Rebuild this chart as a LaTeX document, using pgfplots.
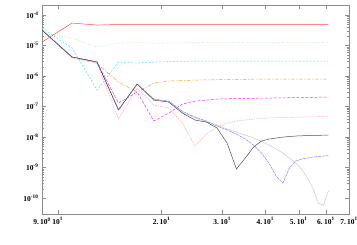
\documentclass[border=0pt]{standalone}
\usepackage{fontspec}
\setmainfont{Liberation Serif}
\usepackage{pgfplots}
\pgfplotsset{compat=1.18}
\definecolor{cred}{RGB}{255,70,70}
\definecolor{cgreen}{RGB}{120,225,120}
\definecolor{ccyan}{RGB}{70,230,230}
\definecolor{corange}{RGB}{230,170,60}
\definecolor{cmag}{RGB}{240,50,240}
\definecolor{cpink}{RGB}{255,170,170}
\definecolor{cblack}{RGB}{80,80,80}
\definecolor{cblue}{RGB}{130,130,255}
\definecolor{cgray}{RGB}{200,200,200}
\begin{document}
\begin{tikzpicture}
\useasboundingbox (-42pt,-31pt) rectangle (315pt,214pt);
\begin{axis}[
  xmode=log, ymode=log,
  scale only axis, width=307pt, height=209pt,
  xmin=9, xmax=70, ymin=3.0e-11, ymax=2.14e-4,
  axis line style={black!45},
  tick style={black!45},
  xtick={9,10,20,30,40,50,60,70},
  xticklabels={9.\,10\textsuperscript{0},10\textsuperscript{1},2.\,10\textsuperscript{1},3.\,10\textsuperscript{1},4.\,10\textsuperscript{1},5.\,10\textsuperscript{1},6.\,10\textsuperscript{1},7.\,10\textsuperscript{1}},
  minor xtick={},
  ytick={1e-10,1e-9,1e-8,1e-7,1e-6,1e-5,1e-4},
  yticklabels={10\textsuperscript{-10},10\textsuperscript{-9},10\textsuperscript{-8},10\textsuperscript{-7},10\textsuperscript{-6},10\textsuperscript{-5},10\textsuperscript{-4}},
  tick label style={font=\fontsize{7.5}{8}\selectfont\bfseries},
  major tick length=4pt, minor tick length=2.5pt,
  tick align=inside,
  xtick pos=both, ytick pos=both,
  xticklabel pos=bottom, yticklabel pos=left,
  every axis plot/.append style={line width=0.5pt},
]
% red solid
\addplot[cred] coordinates {(9,1.30e-5) (11,5.47e-5) (13,4.70e-5) (15,4.90e-5) (17,4.95e-5) (21,4.95e-5) (31,4.95e-5) (41,4.95e-5) (51,4.95e-5) (61,4.95e-5)};
% green dotted
\addplot[cgreen, dotted] coordinates {(9,2.57e-5) (11,1.76e-5) (13,8.93e-6) (15,1.21e-5) (17,1.25e-5) (19,1.21e-5) (21,1.21e-5) (25,1.25e-5) (31,1.26e-5) (41,1.27e-5) (51,1.27e-5) (61,1.27e-5)};
% cyan dashed
\addplot[ccyan, dash pattern=on 2pt off 1.5pt] coordinates {(9,3.75e-5) (11,8.28e-6) (13,3.47e-7) (15,2.88e-6) (17,2.67e-6) (19,2.88e-6) (25,3.10e-6) (31,3.10e-6) (41,3.10e-6) (51,3.10e-6) (61,3.10e-6)};
% orange dash-dot
\addplot[corange, dash pattern=on 4pt off 1.5pt on 1pt off 1.5pt] coordinates {(9,3.22e-5) (11,4.0e-6) (13,2.6e-6) (15,6.36e-7) (17,2.99e-7) (19,5.89e-7) (21,6.86e-7) (23,7.1e-7) (25,7.40e-7) (31,7.7e-7) (41,7.98e-7) (51,7.98e-7) (61,7.98e-7)};
% magenta dashed
\addplot[cmag, dash pattern=on 3pt off 1.5pt] coordinates {(9,3.22e-5) (11,4.2e-6) (13,2.9e-6) (15,1.30e-7) (17,2.99e-7) (19,3.35e-8) (21,6.12e-8) (23,1.21e-7) (25,1.51e-7) (27,1.63e-7) (29,1.76e-7) (33,1.83e-7) (41,1.90e-7) (51,1.98e-7) (61,2.05e-7)};
% pink dotted
\addplot[cpink, dash pattern=on 1.5pt off 1pt] coordinates {(9,3.22e-5) (11,4.2e-6) (13,2.7e-6) (15,3.89e-8) (17,4.04e-7) (19,1.12e-7) (21,8.93e-8) (23,2.88e-8) (25,5.07e-9) (27,1.25e-8) (29,2.13e-8) (31,2.88e-8) (33,3.35e-8) (35,3.61e-8) (37,3.89e-8) (39,4.04e-8) (41,4.20e-8) (45,4.36e-8) (51,4.53e-8) (61,4.70e-8)};
% gray solid
\addplot[cgray] coordinates {(9,3.22e-5) (11,4.2e-6) (13,2.9e-6) (15,7.9e-8) (17,5.47e-7) (19,1.70e-7) (21,1.45e-7) (23,6.5e-8) (25,4.20e-8) (27,3.2e-8) (29,2.47e-8) (31,1.83e-8) (33,1.46e-8) (35,1.16e-8) (37,9.27e-9) (39,7.39e-9) (41,5.47e-9) (43,4.04e-9) (45,2.99e-9) (47,2.05e-9) (49,1.40e-9) (51,8.93e-10) (53,4.53e-10) (55,2.13e-10) (57,6.86e-11) (59,5.89e-11) (61,1.70e-10)};
% blue
\addplot[cblue, dash pattern=on 3pt off 0.8pt] coordinates {(9,3.22e-5) (11,4.2e-6) (13,2.9e-6) (15,8.0e-8) (17,5.47e-7) (19,1.76e-7) (21,1.51e-7) (23,7.0e-8) (25,4.53e-8) (27,3.35e-8) (29,2.30e-8) (31,1.70e-8) (33,1.25e-8) (35,8.60e-9) (37,5.47e-9) (39,2.99e-9) (41,1.40e-9) (43,5.26e-10) (45,3.10e-10) (47,9.63e-10) (49,1.63e-9) (51,1.90e-9) (53,2.05e-9) (55,2.21e-9) (57,2.30e-9) (59,2.38e-9) (61,2.47e-9)};
% black solid
\addplot[cblack] coordinates {(9,3.22e-5) (11,4.2e-6) (13,2.9e-6) (15,7.67e-8) (17,5.47e-7) (19,1.63e-7) (21,1.40e-7) (23,6.12e-8) (25,3.61e-8) (27,3.10e-8) (29,1.97e-8) (31,6.35e-9) (33,8.93e-10) (35,2.05e-9) (37,4.70e-9) (39,7.39e-9) (41,8.60e-9) (43,9.27e-9) (45,1.00e-8) (47,1.04e-8) (49,1.08e-8) (53,1.12e-8) (61,1.16e-8)};
\end{axis}
\end{tikzpicture}
\end{document}
